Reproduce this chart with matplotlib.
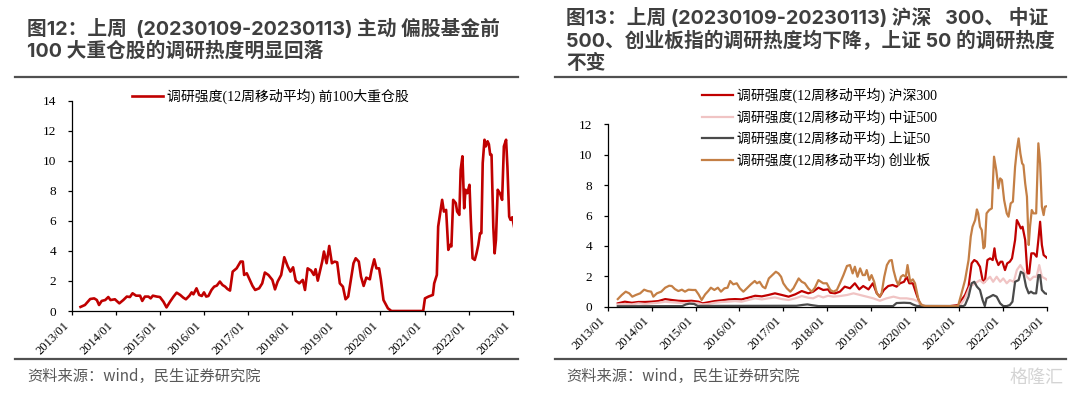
import numpy as np
import matplotlib.pyplot as plt
from matplotlib.lines import Line2D

plt.rcParams['font.family'] = ['Noto Sans CJK SC', 'DejaVu Sans']

# ---- data (decimal years) ----
yrs_top100 = [2013.20, 2013.30, 2013.42, 2013.51, 2013.57, 2013.62, 2013.68, 2013.76, 2013.83, 2013.88,
              2013.98, 2014.08, 2014.17, 2014.25, 2014.32, 2014.38, 2014.46, 2014.55, 2014.60, 2014.66,
              2014.74, 2014.79, 2014.84, 2014.93, 2015.00, 2015.08, 2015.15, 2015.23, 2015.31, 2015.38,
              2015.46, 2015.53, 2015.59, 2015.67, 2015.72, 2015.76, 2015.83, 2015.89, 2015.95, 2016.00,
              2016.05, 2016.10, 2016.17, 2016.23, 2016.29, 2016.36, 2016.42, 2016.48, 2016.53, 2016.59,
              2016.65, 2016.74, 2016.83, 2016.88, 2016.91, 2016.97, 2017.02, 2017.10, 2017.16, 2017.25,
              2017.32, 2017.38, 2017.46, 2017.55, 2017.61, 2017.67, 2017.75, 2017.82, 2017.90, 2017.96,
              2018.02, 2018.08, 2018.16, 2018.24, 2018.29, 2018.35, 2018.43, 2018.49, 2018.53, 2018.58,
              2018.68, 2018.72, 2018.78, 2018.84, 2018.90, 2018.96, 2019.02, 2019.08, 2019.15, 2019.21,
              2019.27, 2019.33, 2019.39, 2019.44, 2019.51, 2019.56, 2019.62, 2019.68, 2019.76, 2019.80,
              2019.86, 2019.91, 2019.97, 2020.01, 2020.07, 2020.17, 2020.25, 2020.97, 2021.01, 2021.09,
              2021.19, 2021.22, 2021.28, 2021.31, 2021.35, 2021.40, 2021.44, 2021.49, 2021.54, 2021.58,
              2021.61, 2021.65, 2021.71, 2021.74, 2021.79, 2021.82, 2021.86, 2021.90, 2021.93, 2021.97,
              2022.02, 2022.05, 2022.09, 2022.14, 2022.18, 2022.22, 2022.26, 2022.29, 2022.32, 2022.36,
              2022.39, 2022.43, 2022.46, 2022.49, 2022.52, 2022.56, 2022.59, 2022.62, 2022.66, 2022.71,
              2022.76, 2022.80, 2022.85, 2022.88, 2022.92, 2022.95, 2022.99, 2023.03]
val_top100 = [0.27, 0.40, 0.80, 0.84, 0.73, 0.40, 0.67, 0.73, 0.93, 0.73,
              0.78, 0.51, 0.73, 0.96, 0.93, 1.18, 1.02, 1.02, 0.67, 0.96,
              0.96, 0.84, 1.02, 0.96, 0.93, 0.62, 0.24, 0.62, 0.96, 1.22,
              1.07, 0.89, 0.78, 1.02, 1.24, 1.11, 1.51, 1.07, 1.00, 1.24,
              0.96, 1.00, 1.40, 1.62, 1.69, 1.96, 1.73, 1.62, 1.47, 1.36,
              2.62, 2.84, 3.29, 3.29, 2.40, 2.51, 2.18, 1.67, 1.40, 1.51,
              1.84, 2.56, 2.40, 2.07, 1.44, 1.96, 2.40, 3.58, 2.96, 2.62,
              2.91, 2.02, 1.84, 2.07, 1.40, 2.84, 2.69, 2.40, 2.78, 2.02,
              3.29, 3.96, 3.18, 4.33, 3.18, 3.29, 3.24, 1.84, 1.62, 0.78,
              0.96, 2.07, 3.18, 3.51, 3.29, 2.29, 1.67, 2.22, 2.11, 2.73,
              3.44, 2.84, 2.84, 2.11, 0.73, 0.18, 0.00, 0.00, 0.84, 0.96,
              1.07, 1.84, 2.40, 5.62, 6.40, 7.40, 6.62, 6.73, 4.07, 4.40,
              4.30, 7.40, 7.18, 6.62, 6.40, 9.40, 10.30, 6.84, 8.07, 7.84,
              8.40, 6.07, 3.51, 3.40, 3.84, 4.40, 5.18, 5.18, 9.85, 11.40,
              10.96, 11.30, 11.10, 10.40, 10.40, 5.62, 3.84, 4.73, 8.07, 7.84,
              7.40, 10.96, 11.40, 9.62, 6.29, 6.07, 6.24, 5.62]

yrs_hs300 = [2013.23, 2013.39, 2013.55, 2013.70, 2013.85, 2014.00, 2014.15, 2014.31, 2014.46, 2014.61,
             2014.76, 2014.91, 2015.07, 2015.16, 2015.29, 2015.44, 2015.60, 2015.75, 2015.90, 2016.05,
             2016.20, 2016.36, 2016.51, 2016.66, 2016.81, 2016.97, 2017.12, 2017.27, 2017.42, 2017.57,
             2017.68, 2017.80, 2017.91, 2018.02, 2018.07, 2018.18, 2018.29, 2018.40, 2018.52, 2018.63,
             2018.73, 2018.82, 2018.94, 2019.04, 2019.13, 2019.20, 2019.29, 2019.39, 2019.49, 2019.58,
             2019.66, 2019.75, 2019.81, 2019.87, 2019.95, 2020.04, 2020.11, 2020.19, 2020.80, 2020.99,
             2021.06, 2021.14, 2021.22, 2021.29, 2021.35, 2021.41, 2021.48, 2021.54, 2021.59, 2021.65,
             2021.71, 2021.77, 2021.81, 2021.84, 2021.90, 2021.95, 2021.99, 2022.05, 2022.10, 2022.16,
             2022.21, 2022.28, 2022.32, 2022.36, 2022.41, 2022.45, 2022.51, 2022.56, 2022.60, 2022.65,
             2022.71, 2022.77, 2022.81, 2022.85, 2022.89, 2022.93, 2023.02]
val_hs300 = [0.22, 0.33, 0.26, 0.31, 0.31, 0.33, 0.37, 0.50, 0.44, 0.39,
             0.37, 0.39, 0.33, 0.22, 0.29, 0.37, 0.42, 0.48, 0.50, 0.48,
             0.59, 0.72, 0.68, 0.77, 0.88, 0.77, 0.66, 0.81, 1.03, 0.88,
             0.99, 1.25, 1.10, 1.14, 0.92, 0.88, 0.99, 1.32, 1.21, 1.54,
             1.14, 1.36, 1.14, 1.54, 0.88, 0.66, 1.10, 1.36, 1.43, 1.32,
             1.54, 1.64, 1.97, 1.54, 1.54, 0.77, 0.22, 0.04, 0.04, 0.11,
             0.44, 0.77, 1.32, 2.85, 3.07, 2.96, 2.63, 1.75, 1.64, 3.07,
             3.18, 3.07, 3.84, 3.18, 2.74, 2.96, 2.96, 2.41, 2.85, 2.96,
             3.18, 4.39, 5.70, 5.48, 5.15, 5.26, 4.39, 2.19, 2.19, 3.51,
             3.51, 3.29, 4.39, 5.59, 4.06, 3.40, 3.18]

yrs_zz500 = [2013.23, 2013.39, 2013.55, 2013.70, 2013.85, 2014.00, 2014.15, 2014.31, 2014.46, 2014.61,
             2014.76, 2014.91, 2015.07, 2015.16, 2015.29, 2015.44, 2015.60, 2015.75, 2015.90, 2016.05,
             2016.20, 2016.36, 2016.51, 2016.66, 2016.81, 2016.97, 2017.12, 2017.27, 2017.42, 2017.57,
             2017.68, 2017.80, 2017.91, 2018.02, 2018.14, 2018.29, 2018.45, 2018.60, 2018.75, 2018.90,
             2019.05, 2019.20, 2019.35, 2019.51, 2019.66, 2019.81, 2019.96, 2020.08, 2020.15, 2020.25,
             2020.99, 2021.03, 2021.14, 2021.25, 2021.37, 2021.48, 2021.56, 2021.63, 2021.71, 2021.78,
             2021.86, 2021.94, 2022.01, 2022.09, 2022.16, 2022.25, 2022.32, 2022.40, 2022.47, 2022.55,
             2022.62, 2022.70, 2022.77, 2022.83, 2022.89, 2022.96, 2023.02]
val_zz500 = [0.15, 0.18, 0.15, 0.22, 0.18, 0.22, 0.26, 0.33, 0.29, 0.26,
             0.22, 0.26, 0.22, 0.15, 0.18, 0.26, 0.31, 0.33, 0.37, 0.33,
             0.44, 0.55, 0.48, 0.55, 0.61, 0.50, 0.44, 0.55, 0.70, 0.59,
             0.55, 0.72, 0.61, 0.72, 0.66, 0.70, 0.77, 0.88, 0.77, 0.66,
             0.55, 0.39, 0.55, 0.66, 0.55, 0.55, 0.48, 0.33, 0.11, 0.04,
             0.04, 0.11, 0.55, 1.32, 1.54, 1.75, 1.54, 1.75, 1.97, 1.64,
             1.97, 1.64, 1.86, 1.54, 1.75, 1.64, 2.41, 2.74, 2.41, 1.97,
             1.75, 1.97, 1.97, 2.74, 1.97, 1.86, 1.75]

yrs_sz50 = [2013.23, 2014.70, 2014.78, 2014.86, 2014.97, 2015.05, 2017.30, 2017.45, 2017.55, 2017.65,
            2017.80, 2019.50, 2019.58, 2019.75, 2019.89, 2019.95, 2020.04, 2021.10, 2021.14, 2021.22,
            2021.29, 2021.35, 2021.41, 2021.48, 2021.54, 2021.59, 2021.63, 2021.71, 2021.78, 2021.86,
            2021.94, 2022.01, 2022.09, 2022.16, 2022.22, 2022.28, 2022.36, 2022.41, 2022.47, 2022.53,
            2022.59, 2022.64, 2022.70, 2022.76, 2022.81, 2022.85, 2022.89, 2022.96, 2023.02]
val_sz50 = [0.03, 0.04, 0.15, 0.20, 0.18, 0.05, 0.06, 0.12, 0.15, 0.10,
            0.04, 0.04, 0.24, 0.26, 0.24, 0.15, 0.05, 0.04, 0.11, 0.66,
            1.54, 1.64, 1.32, 1.10, 0.44, 0.04, 0.55, 0.66, 0.77, 0.66,
            0.22, 0.04, 0.04, 0.11, 0.33, 1.64, 1.75, 2.30, 2.19, 1.32,
            0.88, 0.99, 0.88, 0.88, 2.08, 2.08, 1.10, 0.88, 0.83]

yrs_cyb = [2013.23, 2013.32, 2013.41, 2013.49, 2013.56, 2013.64, 2013.74, 2013.83, 2013.91, 2013.99,
           2014.04, 2014.12, 2014.22, 2014.31, 2014.40, 2014.46, 2014.53, 2014.61, 2014.69, 2014.76,
           2014.84, 2014.93, 2015.00, 2015.07, 2015.14, 2015.22, 2015.29, 2015.35, 2015.43, 2015.51,
           2015.58, 2015.66, 2015.73, 2015.79, 2015.86, 2015.94, 2016.01, 2016.09, 2016.17, 2016.26,
           2016.35, 2016.40, 2016.46, 2016.53, 2016.59, 2016.67, 2016.75, 2016.83, 2016.89, 2016.95,
           2017.00, 2017.08, 2017.16, 2017.23, 2017.35, 2017.42, 2017.49, 2017.57, 2017.65, 2017.72,
           2017.80, 2017.91, 2017.99, 2018.07, 2018.14, 2018.22, 2018.29, 2018.37, 2018.45, 2018.52,
           2018.58, 2018.63, 2018.69, 2018.75, 2018.81, 2018.86, 2018.90, 2018.96, 2019.01, 2019.07,
           2019.13, 2019.19, 2019.24, 2019.30, 2019.36, 2019.42, 2019.47, 2019.51, 2019.57, 2019.62,
           2019.68, 2019.73, 2019.79, 2019.83, 2019.89, 2019.95, 2020.00, 2020.08, 2020.15, 2020.23,
           2020.98, 2021.06, 2021.14, 2021.22, 2021.27, 2021.31, 2021.37, 2021.41, 2021.44, 2021.48,
           2021.52, 2021.56, 2021.59, 2021.63, 2021.69, 2021.75, 2021.80, 2021.85, 2021.90, 2021.94,
           2021.98, 2022.03, 2022.09, 2022.13, 2022.18, 2022.23, 2022.28, 2022.32, 2022.36, 2022.40,
           2022.44, 2022.47, 2022.51, 2022.55, 2022.59, 2022.62, 2022.66, 2022.70, 2022.76, 2022.81,
           2022.85, 2022.89, 2022.93, 2022.96, 2023.02]
val_cyb = [0.50, 0.77, 0.99, 0.88, 0.66, 0.77, 0.88, 1.12, 1.03, 0.99,
           0.66, 0.88, 0.99, 1.25, 1.38, 1.36, 1.16, 1.03, 1.12, 0.99,
           1.12, 1.10, 1.10, 0.81, 0.44, 0.81, 1.03, 1.25, 1.10, 1.25,
           0.99, 1.21, 1.25, 1.69, 1.47, 1.54, 1.21, 0.99, 1.21, 1.47,
           1.69, 1.54, 1.64, 1.32, 1.21, 1.86, 2.08, 2.30, 2.19, 1.97,
           1.54, 1.21, 0.99, 1.21, 1.86, 1.64, 1.54, 1.21, 0.99, 1.25,
           1.75, 1.54, 1.54, 1.10, 0.99, 1.10, 1.54, 2.08, 2.68, 2.74,
           2.19, 2.63, 1.97, 2.52, 2.08, 2.08, 2.41, 1.75, 2.08, 1.64,
           0.88, 0.66, 0.88, 1.97, 2.74, 3.03, 3.07, 2.41, 1.75, 1.43,
           1.97, 2.08, 1.97, 2.74, 1.64, 1.80, 1.54, 0.44, 0.11, 0.04,
           0.04, 0.88, 1.75, 3.07, 4.61, 5.26, 5.70, 6.40, 6.14, 5.26,
           5.04, 3.84, 3.95, 6.14, 6.36, 6.47, 9.87, 9.00, 7.79, 8.44,
           8.33, 7.02, 6.14, 5.92, 6.80, 6.91, 9.21, 10.31, 11.07, 10.09,
           9.43, 9.32, 8.11, 7.24, 4.06, 5.26, 6.36, 6.14, 6.14, 10.75,
           9.43, 6.58, 6.03, 6.58, 6.62]

years = list(range(2013, 2024))
year_labels = [f'{y}/01' for y in years]

label_left = '调研强度(12周移动平均) 前100大重仓股'
labels_right = ['调研强度(12周移动平均) 沪深300', '调研强度(12周移动平均) 中证500',
                '调研强度(12周移动平均) 上证50', '调研强度(12周移动平均) 创业板']
colors_right = ['#c00000', '#f0c4c4', '#4a4a4a', '#c47f45']

title_left = '图12：上周  (20230109-20230113) 主动 偏股基金前\n100 大重仓股的调研热度明显回落'
title_right = '图13：上周 (20230109-20230113) 沪深   300、 中证\n500、创业板指的调研热度均下降，上证 50 的调研热度\n不变'
source = '资料来源：wind，民生证券研究院'

W, H = 1070, 399
serif = ['Liberation Serif', 'Noto Sans CJK SC']
title_font = ['Inter', 'Noto Sans CJK SC']


def box(l, t, r, b):
    return [l / W, 1 - b / H, (r - l) / W, (b - t) / H]


def style_axis(ax, ymax, ystep):
    ax.set_xlim(2013, 2023)
    ax.set_ylim(0, ymax)
    ax.set_xticks(years)
    ax.set_xticklabels(year_labels, rotation=45, ha='right', family=serif, fontsize=9)
    ax.set_yticks(np.arange(0, ymax + 0.1, ystep))
    for t in ax.get_yticklabels():
        t.set_family(serif)
        t.set_fontsize(9.5)
    for s in ['top', 'right']:
        ax.spines[s].set_visible(False)
    for s in ['left', 'bottom']:
        ax.spines[s].set_linewidth(0.9)
        ax.spines[s].set_color('#000000')
    ax.tick_params(axis='both', direction='out', length=3, width=0.9, colors='#000000')
    ax.tick_params(axis='y', pad=8)
    ax.tick_params(axis='x', pad=3)


fig = plt.figure(figsize=(W / 100, H / 100), dpi=100)

# left chart
ax1 = fig.add_axes(box(71.7, 100.7, 512.7, 311))
ax1.plot(yrs_top100, val_top100, color='#c00000', lw=1.9, label=label_left)
style_axis(ax1, 14, 2)
ax1.legend(loc='upper left', bbox_to_anchor=(132 / W, 1 - 89 / H), bbox_transform=fig.transFigure,
           frameon=False, prop={'family': serif, 'size': 10}, handlelength=2.2, handletextpad=0.3,
           borderpad=0, borderaxespad=0)

# right chart
ax2 = fig.add_axes(box(607.7, 124.3, 1046.7, 306.7))
series = [(yrs_hs300, val_hs300), (yrs_zz500, val_zz500), (yrs_sz50, val_sz50), (yrs_cyb, val_cyb)]
for (xs, ys), c, lab in zip(series, colors_right, labels_right):
    ax2.plot(xs, ys, color=c, lw=1.6, label=lab)
style_axis(ax2, 12, 2)
ax2.legend(loc='upper left', bbox_to_anchor=(702 / W, 1 - 88 / H), bbox_transform=fig.transFigure,
           frameon=False, prop={'family': serif, 'size': 10}, handlelength=2.2, handletextpad=0.3,
           labelspacing=0.45, borderpad=0, borderaxespad=0)

# titles, rules, source
title_kw = dict(family=title_font, fontsize=14.2, fontweight='bold', color='#3f3f3f',
                va='top', ha='left', linespacing=1.17)
fig.text(27 / W, 1 - 19 / H, title_left, **title_kw)
fig.text(566 / W, 1 - 8 / H, title_right, **title_kw)

for x0, x1 in [(15, 518), (555, 1066)]:
    for y in (77, 359):
        fig.add_artist(Line2D([x0 / W, x1 / W], [1 - y / H, 1 - y / H], color='#505050', lw=1.6))

fig.text(27 / W, 1 - 376 / H, source, fontsize=11, color='#595959', va='center', ha='left')
fig.text(566 / W, 1 - 376 / H, source, fontsize=11, color='#595959', va='center', ha='left')
fig.text(1064 / W, 1 - 378 / H, '格隆汇', fontsize=13, color='#d4d4d4', va='center', ha='right')

fig.savefig('out.png', dpi=100)
